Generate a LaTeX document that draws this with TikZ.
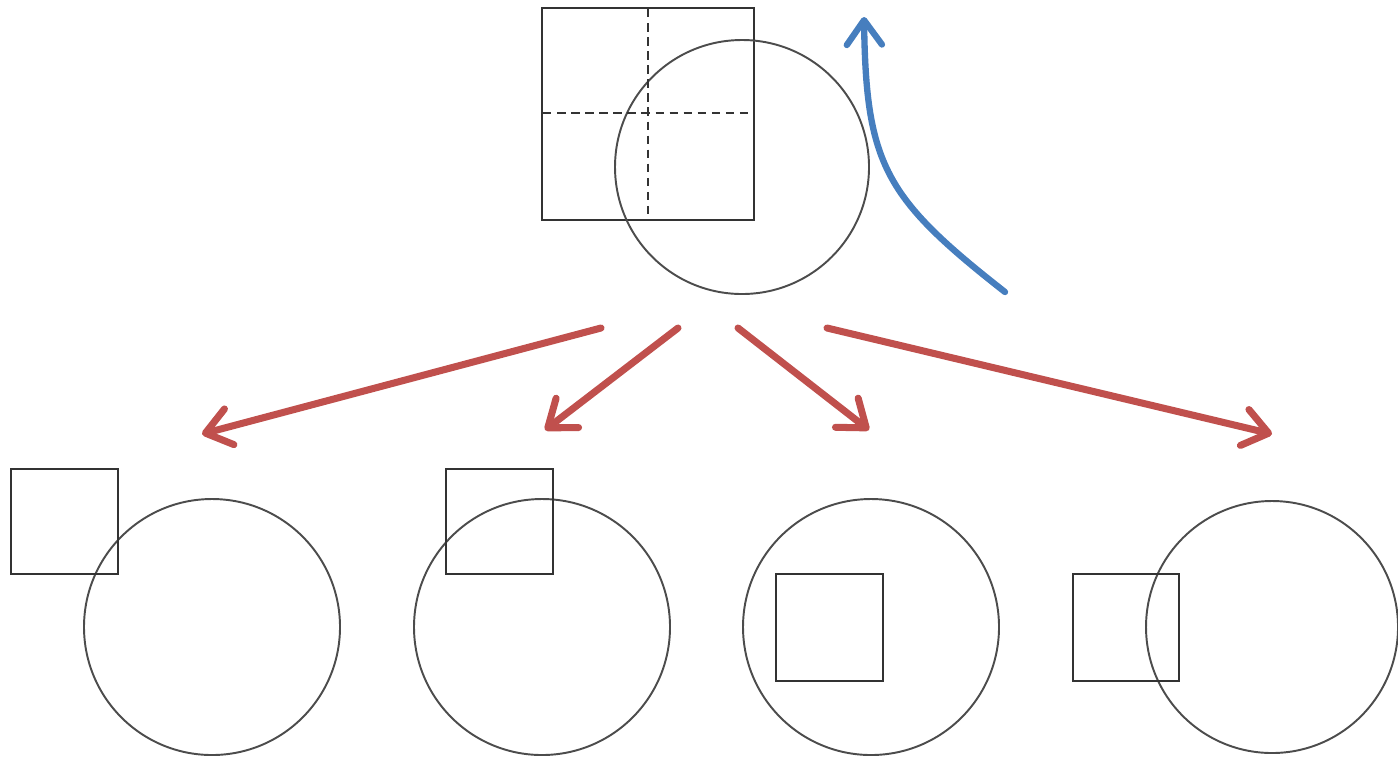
\documentclass[tikz,border=0pt]{standalone}
\usetikzlibrary{arrows.meta}
\begin{document}
\begin{tikzpicture}[x=0.01cm,y=-0.01cm,
  ring/.style={draw=black!70,line width=0.55pt,circle,minimum size=254*0.01cm,inner sep=0pt},
  box/.style={draw=black!80,line width=0.6pt,rectangle,inner sep=0pt},
  guide/.style={draw=black!80,line width=0.65pt,dash pattern=on 2.4pt off 1.6pt},
  redarrow/.style={draw={rgb,255:red,192;green,80;blue,77},line width=2pt,line cap=round,-{Straight Barb[length=7pt,width=10.5pt,round]}},
  bluearrow/.style={draw={rgb,255:red,70;green,126;blue,190},line width=1.8pt,line cap=round,-{Straight Barb[length=7pt,width=10pt,round]}}]
\useasboundingbox (0,0) rectangle (1398,757);
% top
\node[box,minimum width=212*0.01cm,minimum height=212*0.01cm] (topsq) at (648,114) {};
\node[ring] (topc) at (742,167) {};
\draw[guide] (648,9) -- (648,216);
\draw[guide] (543,113) -- (750,113);
% blue arrow
\coordinate (bs) at (1005,292);
\coordinate (be) at (864,17);
\draw[bluearrow] (bs) .. controls (885,198) and (866,165) .. (be);
% red arrows
\coordinate (r1s) at (601,328); \coordinate (r1e) at (202,434);
\coordinate (r2s) at (678,328); \coordinate (r2e) at (545,430);
\coordinate (r3s) at (738,328); \coordinate (r3e) at (869,430);
\coordinate (r4s) at (827,328); \coordinate (r4e) at (1272,434);
\draw[redarrow] (r1s) -- (r1e);
\draw[redarrow] (r2s) -- (r2e);
\draw[redarrow] (r3s) -- (r3e);
\draw[redarrow] (r4s) -- (r4e);
% bottom groups
\node[ring,minimum size=256*0.01cm] (c1) at (212,627) {};
\node[box,minimum width=107*0.01cm,minimum height=105*0.01cm] (s1) at (64.5,521.5) {};
\node[ring,minimum size=256*0.01cm] (c2) at (542,627) {};
\node[box,minimum width=107*0.01cm,minimum height=105*0.01cm] (s2) at (499.5,521.5) {};
\node[ring,minimum size=256*0.01cm] (c3) at (871,627) {};
\node[box,minimum width=107*0.01cm,minimum height=107*0.01cm] (s3) at (829.5,627.5) {};
\node[ring,minimum size=252*0.01cm] (c4) at (1272,627) {};
\node[box,minimum width=106*0.01cm,minimum height=107*0.01cm] (s4) at (1126,627.5) {};
\end{tikzpicture}
\end{document}
